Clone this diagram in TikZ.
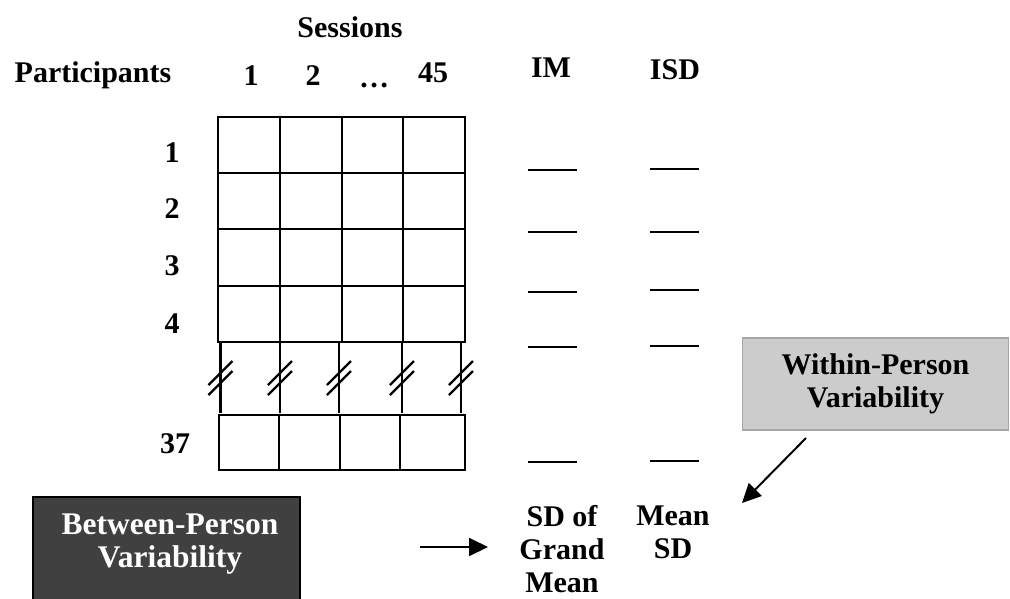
\documentclass[tikz,border=0pt]{standalone}
\usepackage{fontspec}
\setmainfont{Liberation Serif}
\usetikzlibrary{arrows.meta}
\definecolor{bpfill}{HTML}{404040}
\definecolor{wpfill}{HTML}{CCCCCC}
\definecolor{wpdraw}{HTML}{A6A6A6}
\begin{document}
\begin{tikzpicture}[x=1pt,y=-1pt,
  lbl/.style={font=\bfseries\fontsize{30}{33}\selectfont, inner sep=0pt, anchor=base},
  mlbl/.style={font=\bfseries\fontsize{30}{33}\selectfont, inner sep=0pt, align=center},
  gridline/.style={line width=2.8pt, line cap=rect},
  blank/.style={line width=2.2pt},
  brk/.style={line width=2.4pt},
  arr/.style={line width=2pt, -{Triangle[length=19pt,width=18pt]}}]
\useasboundingbox (0,0) rectangle (1010,598);

% headers
\node[lbl] (sessions) at (350,37) {Sessions};
\node[lbl] (participants) at (93,82) {Participants};
\node[lbl] (s1) at (251,85) {1};
\node[lbl] (s2) at (313,85) {2};
\node[lbl] (sdots) at (374,87) {\dots};
\node[lbl] (s45) at (433,82) {45};
\node[lbl] (im) at (551,77) {IM};
\node[lbl] (isd) at (675,79) {ISD};

% row labels
\node[lbl] (p1) at (172,162) {1};
\node[lbl] (p2) at (172,218) {2};
\node[lbl] (p3) at (172,275) {3};
\node[lbl] (p4) at (172,333) {4};
\node[lbl] (p37) at (175,453) {37};

% top grid
\foreach \x in {218,280,342,403,465} \draw[gridline] (\x,117) -- (\x,342);
\foreach \y in {117,173,229,286,342} \draw[gridline] (218,\y) -- (465,\y);

% bottom row
\foreach \x in {219,279,340,400,465} \draw[gridline] (\x,415) -- (\x,470);
\foreach \y in {415,470} \draw[gridline] (219,\y) -- (465,\y);

% break marks
\foreach \x in {220.5,280,339,402,461} {
  \draw[brk] (\x,343) -- (\x,413);
  \draw[brk] (\x-12,385) -- (\x+12,361);
  \draw[brk] (\x-12,395) -- (\x+12,371);
}

% blanks
\foreach \y in {170,232,292,347,462} \draw[blank] (528,\y) -- (577,\y);
\foreach \y in {169,232,290,346,461} \draw[blank] (650,\y) -- (699,\y);

% bottom labels
\node[mlbl] (sdgm) at (562,549) {SD of\\Grand\\Mean};
\node[mlbl] (meansd) at (673,532.5) {Mean\\SD};

% boxes
\node[draw=black, fill=bpfill, line width=1.5pt, minimum width=267pt, minimum height=130pt, inner sep=0pt] (bpbox) at (166.5,562) {};
\node[mlbl, text=white, font=\bfseries\fontsize{31.5}{33}\selectfont] (bptext) at (170,544) {Between-Person\\Variability};
\node[draw=wpdraw, fill=wpfill, line width=1.5pt, minimum width=266pt, minimum height=92pt, inner sep=0pt, mlbl] (wpbox) at (875.5,384) {Within-Person\\Variability};

% arrows
\coordinate (a1s) at (420,547);
\coordinate (a1e) at (488,547);
\draw[arr] (a1s) -- (a1e);
\coordinate (a2s) at (806,438);
\coordinate (a2e) at (742,503);
\draw[arr] (a2s) -- (a2e);
\end{tikzpicture}
\end{document}
